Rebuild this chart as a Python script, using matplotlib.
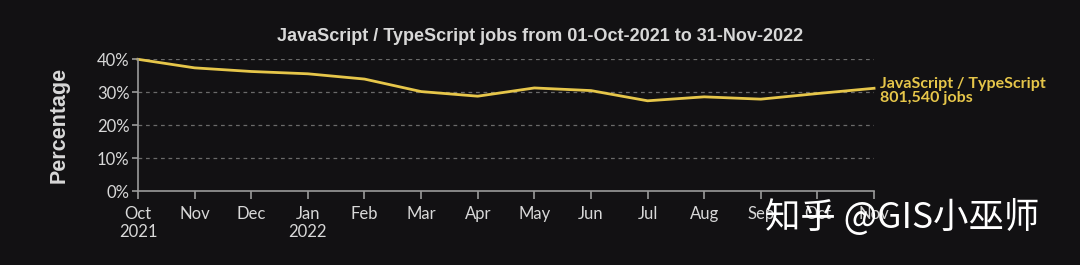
import matplotlib
matplotlib.use('Agg')
import matplotlib.pyplot as plt

months = ['Oct\n2021', 'Nov', 'Dec', 'Jan\n2022', 'Feb', 'Mar', 'Apr',
          'May', 'Jun', 'Jul', 'Aug', 'Sep', 'Oct', 'Nov']
share = [40.0, 37.4, 36.3, 35.6, 34.0, 30.2, 28.8,
         31.3, 30.5, 27.4, 28.6, 27.9, 29.6, 31.2]
yticks = [0, 10, 20, 30, 40]
series_name = 'JavaScript / TypeScript'
job_count = '801,540 jobs'

bg = '#121113'
fg = '#d8d8d8'
yellow = '#e6c64a'

fig = plt.figure(figsize=(10.8, 2.65), dpi=100, facecolor=bg)
ax = fig.add_axes([0.1278, 0.2792, 0.6815, 0.497])
ax.set_facecolor(bg)

x = list(range(len(months)))
ax.plot(x, share, color=yellow, lw=2, solid_joinstyle='round', clip_on=False)

ax.set_xlim(0, len(months) - 1)
ax.set_ylim(0, 40)
ax.set_xticks(x)
ax.set_xticklabels(months, fontsize=12, color=fg, family='Lato', linespacing=1.15)
ax.set_yticks(yticks)
ax.set_yticklabels(['{}%'.format(v) for v in yticks], fontsize=12, color=fg, family='Lato')
ax.tick_params(axis='x', colors='#9a9a9a', length=6, width=1.2, pad=5, labelcolor=fg)
ax.tick_params(axis='y', colors='#9a9a9a', length=4, width=1.2, pad=2, labelcolor=fg)

for v in yticks[1:]:
    ax.axhline(v, color='#6a6a6a', lw=0.9, ls=(0, (3, 3)), zorder=0)

for s in ['top', 'right']:
    ax.spines[s].set_visible(False)
for s in ['left', 'bottom']:
    ax.spines[s].set_color('#9a9a9a')
    ax.spines[s].set_linewidth(1.2)

ax.set_ylabel('Percentage', fontsize=15.5, fontweight='bold', color=fg,
              family='Liberation Sans', labelpad=20)
fig.text(0.5, 0.862, 'JavaScript / TypeScript jobs from 01-Oct-2021 to 31-Nov-2022',
         ha='center', va='center', fontsize=13, fontweight='bold', color=fg,
         family='Liberation Sans')

ax.annotate(series_name + '\n' + job_count, xy=(x[-1], share[-1]),
            xytext=(4, 8), textcoords='offset points', ha='left', va='top',
            fontsize=11.5, fontweight='bold', color=yellow, family='Lato',
            linespacing=0.95, annotation_clip=False)

fig.text(0.708, 0.18, '知乎 @GIS小巫师', ha='left', va='center', fontsize=25.5,
         color='white', family=['Noto Sans CJK SC', 'DejaVu Sans'])

fig.savefig('out.png', dpi=100, facecolor=bg)
